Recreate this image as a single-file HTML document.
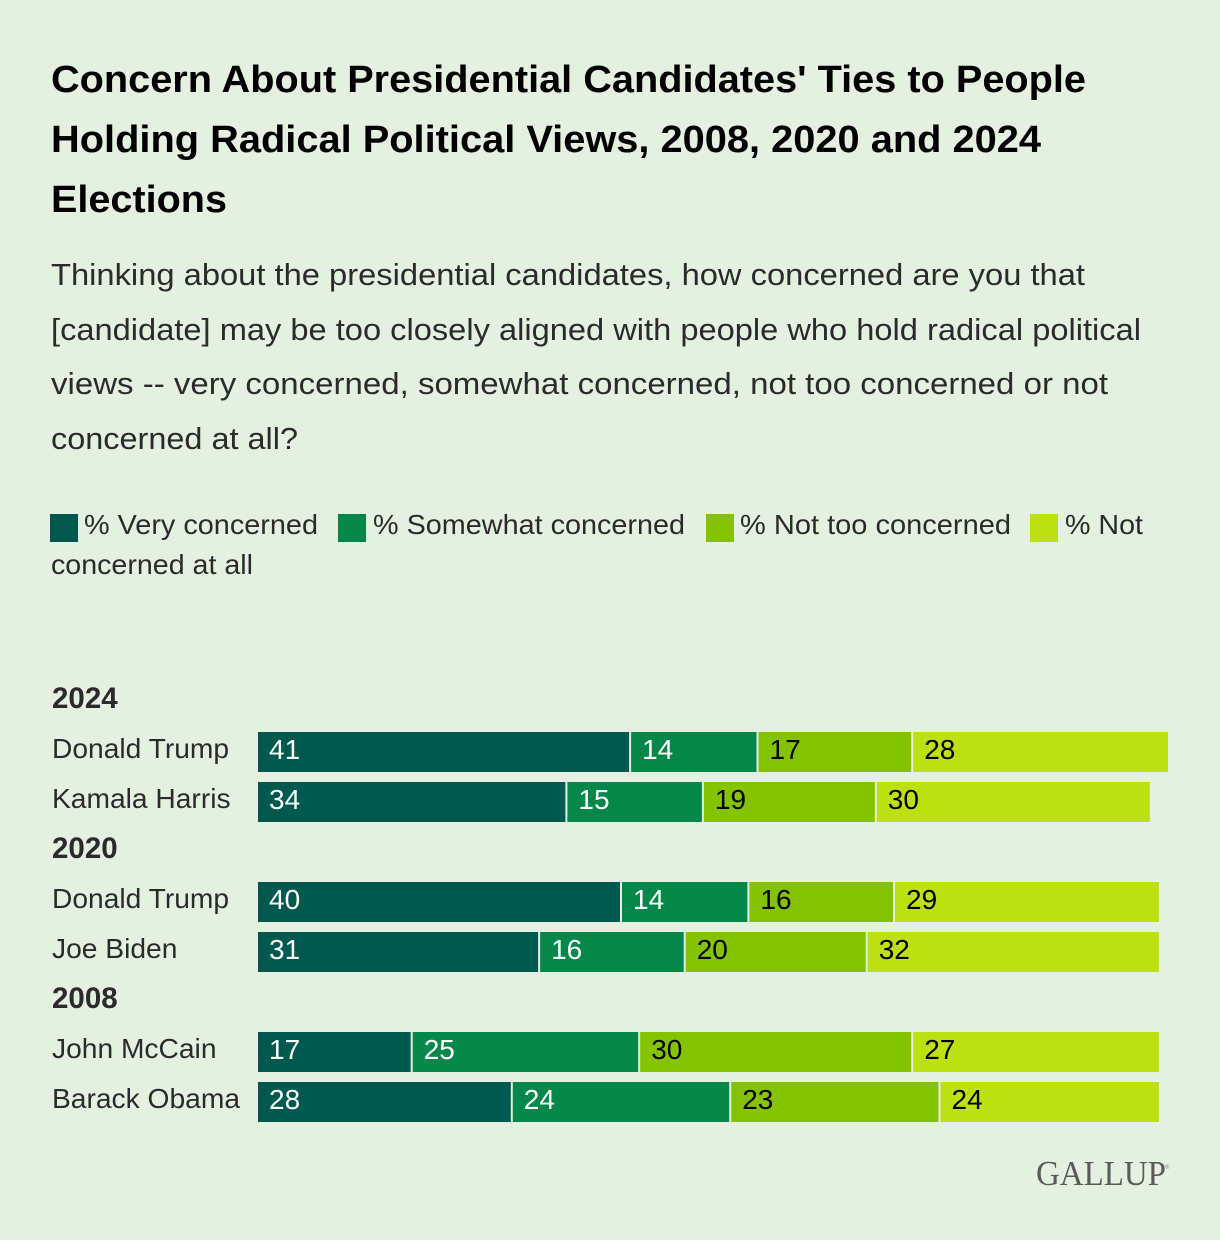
<!DOCTYPE html>
<html lang="en">
<head>
<meta charset="utf-8">
<title>Concern About Presidential Candidates' Ties</title>
<style>
html,body{margin:0;padding:0;width:1220px;height:1240px;background:#e4f1e1;overflow:hidden}
svg{display:block;font-family:"Liberation Sans",sans-serif}
.title{font-size:38px;font-weight:700;fill:#000}
.sub{font-size:31px;fill:#2b2b2b}
.leg{font-size:28px;fill:#2b2b2b}
.cat{font-size:28.2px;fill:#2b2b2b}
.yr{font-size:29.5px;font-weight:700;fill:#2b2b2b}
.val{font-size:28px}
</style>
</head>
<body>
<svg id="chart" width="1220" height="1240" viewBox="0 0 1220 1240">
  <rect width="1220" height="1240" fill="#e4f1e1"/>
  <g>
    <text class="title" x="51" y="92" textLength="1035" lengthAdjust="spacingAndGlyphs">Concern About Presidential Candidates' Ties to People</text>
    <text class="title" x="51" y="152" textLength="990" lengthAdjust="spacingAndGlyphs">Holding Radical Political Views, 2008, 2020 and 2024</text>
    <text class="title" x="51" y="212" textLength="176" lengthAdjust="spacingAndGlyphs">Elections</text>
  </g>
  <g>
    <text class="sub" x="51" y="285" textLength="1034" lengthAdjust="spacingAndGlyphs">Thinking about the presidential candidates, how concerned are you that</text>
    <text class="sub" x="51" y="340" textLength="1090" lengthAdjust="spacingAndGlyphs">[candidate] may be too closely aligned with people who hold radical political</text>
    <text class="sub" x="51" y="394" textLength="1057" lengthAdjust="spacingAndGlyphs">views -- very concerned, somewhat concerned, not too concerned or not</text>
    <text class="sub" x="51" y="449" textLength="247" lengthAdjust="spacingAndGlyphs">concerned at all?</text>
  </g>
  <g>
    <rect x="50" y="514" width="28" height="28" fill="#00594f"/>
    <text class="leg" x="84" y="534" textLength="234" lengthAdjust="spacingAndGlyphs">% Very concerned</text>
    <rect x="338" y="514" width="28" height="28" fill="#06874a"/>
    <text class="leg" x="373" y="534" textLength="312" lengthAdjust="spacingAndGlyphs">% Somewhat concerned</text>
    <rect x="706" y="514" width="28" height="28" fill="#85c200"/>
    <text class="leg" x="740" y="534" textLength="271" lengthAdjust="spacingAndGlyphs">% Not too concerned</text>
    <rect x="1030" y="514" width="28" height="28" fill="#bde013"/>
    <text class="leg" x="1065" y="534" textLength="78" lengthAdjust="spacingAndGlyphs">% Not</text>
    <text class="leg" x="51" y="574" textLength="202" lengthAdjust="spacingAndGlyphs">concerned at all</text>
  </g>
  <g id="plot"></g>
  <g>
    <text x="1036" y="1185" textLength="130" lengthAdjust="spacingAndGlyphs" style="font-family:'Liberation Serif',serif;font-size:35px;fill:#5a5a5a">GALLUP</text>
    <text x="1165" y="1169" style="font-family:'Liberation Sans',sans-serif;font-size:6px;fill:#8a8a8a">®</text>
  </g>
</svg>
<script>
const years = ['2024', '2020', '2008'];
const rowYears = ['2024', '2024', '2020', '2020', '2008', '2008'];
const candidates = ['Donald Trump', 'Kamala Harris', 'Donald Trump', 'Joe Biden', 'John McCain', 'Barack Obama'];
const veryConcerned = [41, 34, 40, 31, 17, 28];
const somewhatConcerned = [14, 15, 14, 16, 25, 24];
const notTooConcerned = [17, 19, 16, 20, 30, 23];
const notAtAllConcerned = [28, 30, 29, 32, 27, 24];
const seriesKeys = ['very', 'somewhat', 'not-too', 'not-at-all'];
const seriesColors = ['#00594f', '#06874a', '#85c200', '#bde013'];
const labelColors = ['#ffffff', '#ffffff', '#000000', '#000000'];

const NS = 'http://www.w3.org/2000/svg';
const plot = document.getElementById('plot');
const allSeries = [veryConcerned, somewhatConcerned, notTooConcerned, notAtAllConcerned];
const xScale = v => 258 + v * 9.1;
const rowHeight = 50;
const barHeight = 40;
const gap = 2;
const top0 = 682;

function addText(cls, x, y, str, fill) {
  const t = document.createElementNS(NS, 'text');
  t.setAttribute('class', cls);
  t.setAttribute('x', x);
  t.setAttribute('y', y);
  if (fill) t.setAttribute('fill', fill);
  t.textContent = str;
  plot.appendChild(t);
  return t;
}

let cursor = top0;
years.forEach(year => {
  const yearLabel = addText('yr', 52, cursor + 26, year);
  
  
  cursor += rowHeight;
  rowYears.forEach((ry, i) => {
    if (ry !== year) return;
    const slug = year + '-' + candidates[i].toLowerCase().replace(/\s+/g, '-');
    const cat = addText('cat', 52, cursor + 26, candidates[i]);
    
    
    let acc = 0;
    allSeries.forEach((series, s) => {
      const v = series[i];
      const x0 = xScale(acc);
      const x1 = xScale(acc + v);
      const isLast = s === allSeries.length - 1;
      const r = document.createElementNS(NS, 'rect');
      r.setAttribute('x', x0);
      r.setAttribute('y', cursor);
      r.setAttribute('width', Math.max(0, x1 - x0 - (isLast ? 0 : gap)));
      r.setAttribute('height', barHeight);
      r.setAttribute('fill', seriesColors[s]);
      
      
      plot.appendChild(r);
      const lab = addText('val', x0 + 11, cursor + 27, String(v), labelColors[s]);
      
      
      acc += v;
    });
    cursor += rowHeight;
  });
});
</script>
</body>
</html>
